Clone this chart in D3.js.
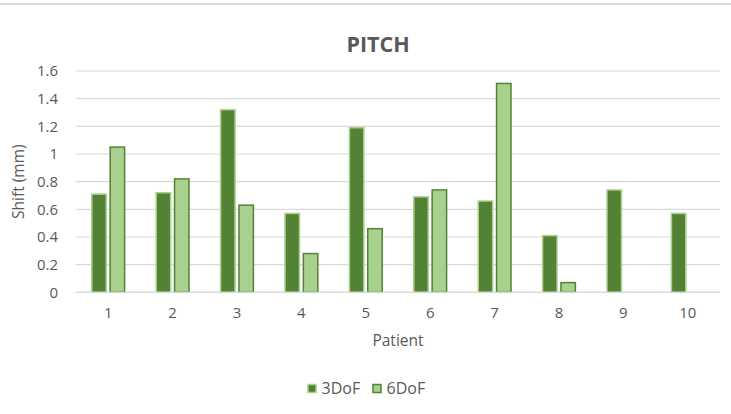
<!DOCTYPE html>
<html>
<head>
<meta charset="utf-8">
<script src="https://cdn.jsdelivr.net/npm/d3@7"></script>
<style>
  html, body { margin: 0; padding: 0; background: #fff; }
  svg { display: block; font-family: "Open Sans", sans-serif; }
</style>
</head>
<body>
<svg id="chart" width="731" height="414"></svg>
<script>
// Per-patient shift (mm) for each method
const patients = ["1", "2", "3", "4", "5", "6", "7", "8", "9", "10"];
const series = ["3DoF", "6DoF"];
const shift3DoF = [0.71, 0.72, 1.32, 0.57, 1.19, 0.69, 0.66, 0.41, 0.74, 0.57];
const shift6DoF = [1.05, 0.82, 0.63, 0.28, 0.46, 0.74, 1.51, 0.07, null, null];
const yTicks = [0, 0.2, 0.4, 0.6, 0.8, 1, 1.2, 1.4, 1.6];

const fills = { "3DoF": "#548235", "6DoF": "#a9d18e" };
const strokes = { "3DoF": "#a9d18e", "6DoF": "#548235" };
const textColor = "#595959";

const svg = d3.select("#chart");
const W = 731, H = 414;
const plot = { left: 76, right: 720, top: 71, bottom: 292.3 };

// thin rule along the top edge
svg.append("line")
  .attr("x1", 0).attr("x2", W).attr("y1", 4).attr("y2", 4)
  .attr("stroke", "#dcdcdc").attr("stroke-width", 2);

const x = d3.scaleBand().domain(patients).range([plot.left, plot.right]);
const xSub = d3.scaleBand().domain(series)
  .range([0, x.bandwidth()])
  .paddingInner(0.2126).paddingOuter(0.862);
const y = d3.scaleLinear().domain([0, 1.6]).range([plot.bottom, plot.top]);

// gridlines
svg.append("g")
  .selectAll("line")
  .data(yTicks)
  .join("line")
  .attr("x1", plot.left).attr("x2", plot.right)
  .attr("y1", d => y(d)).attr("y2", d => y(d))
  .attr("stroke", "#d9d9d9").attr("stroke-width", 1.2);

// y axis labels
const yAxis = d3.axisLeft(y).tickValues(yTicks).tickSize(0).tickPadding(0)
  .tickFormat(d => String(d));
const gy = svg.append("g").attr("transform", `translate(${plot.left - 18},0)`).call(yAxis);
gy.select(".domain").remove();
gy.selectAll("text").attr("fill", textColor).attr("font-size", 15)
  .attr("font-family", "Open Sans, sans-serif");

// x axis labels
const xAxis = d3.axisBottom(x).tickSize(0).tickPadding(0);
const gx = svg.append("g").attr("transform", `translate(0,${plot.bottom + 15})`).call(xAxis);
gx.select(".domain").remove();
gx.selectAll("text").attr("fill", textColor).attr("font-size", 15)
  .attr("font-family", "Open Sans, sans-serif");

// bars
const rows = patients.map((p, i) => ({ patient: p, values: [
  { key: "3DoF", value: shift3DoF[i] },
  { key: "6DoF", value: shift6DoF[i] }
]}));

svg.append("g")
  .selectAll("g")
  .data(rows)
  .join("g")
  .attr("transform", d => `translate(${x(d.patient)},0)`)
  .selectAll("rect")
  .data(d => d.values.filter(v => v.value != null))
  .join("rect")
  .attr("x", d => xSub(d.key))
  .attr("width", xSub.bandwidth())
  .attr("y", d => y(d.value))
  .attr("height", d => y(0) - y(d.value))
  .attr("fill", d => fills[d.key])
  .attr("stroke", d => strokes[d.key])
  .attr("stroke-width", 1.5);

// baseline
svg.append("line")
  .attr("x1", plot.left).attr("x2", plot.right)
  .attr("y1", y(0)).attr("y2", y(0))
  .attr("stroke", "#d9d9d9").attr("stroke-width", 1.2);

// title
svg.append("text")
  .attr("x", 378).attr("y", 52)
  .attr("text-anchor", "middle")
  .attr("fill", textColor)
  .attr("font-size", 21.5).attr("font-weight", 700)
  .text("PITCH");

// axis titles
svg.append("text")
  .attr("x", (plot.left + plot.right) / 2).attr("y", 346)
  .attr("text-anchor", "middle")
  .attr("fill", textColor).attr("font-size", 15.5)
  .text("Patient");

svg.append("text")
  .attr("transform", `translate(24,${(plot.top + plot.bottom) / 2}) rotate(-90)`)
  .attr("text-anchor", "middle")
  .attr("fill", textColor).attr("font-size", 15.5)
  .text("Shift (mm)");

// legend
const legendItems = [{ key: "3DoF", x: 308 }, { key: "6DoF", x: 373 }];
const lg = svg.append("g");
lg.selectAll("rect")
  .data(legendItems)
  .join("rect")
  .attr("x", d => d.x).attr("y", 384.5)
  .attr("width", 8).attr("height", 8)
  .attr("fill", d => fills[d.key])
  .attr("stroke", d => strokes[d.key])
  .attr("stroke-width", 1.5);
lg.selectAll("text")
  .data(legendItems)
  .join("text")
  .attr("x", d => d.x + 13.5).attr("y", 393.5)
  .attr("fill", textColor).attr("font-size", 16)
  .text(d => d.key);
</script>
</body>
</html>
